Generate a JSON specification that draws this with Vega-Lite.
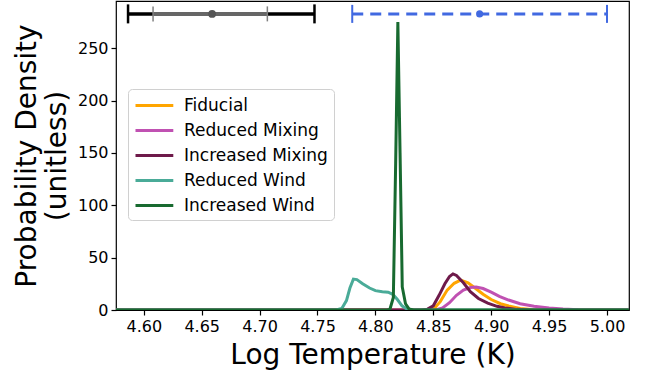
{
  "$schema": "https://vega.github.io/schema/vega-lite/v6.json",
  "width": 513,
  "height": 309,
  "autosize": "none",
  "padding": {"left": 116, "top": 1, "right": 22, "bottom": 66},
  "background": "white",
  "config": {
    "font": "DejaVu Sans",
    "view": {"stroke": "#000000", "strokeWidth": 1.2},
    "axis": {
      "grid": false,
      "domain": false,
      "labelFont": "DejaVu Sans",
      "labelFontSize": 16,
      "labelColor": "#000000",
      "tickColor": "#000000",
      "tickSize": 5,
      "tickWidth": 1.2,
      "titleFont": "DejaVu Sans",
      "titleFontSize": 28,
      "titleFontWeight": "normal",
      "titleColor": "#000000"
    },
    "legend": {
      "labelFont": "DejaVu Sans",
      "labelFontSize": 17,
      "labelColor": "#000000"
    }
  },
  "datasets": {
    "curves": [
      {"series": "Fiducial", "x": 4.576, "y": 0},
      {"series": "Fiducial", "x": 4.845, "y": 0},
      {"series": "Fiducial", "x": 4.850, "y": 0.5},
      {"series": "Fiducial", "x": 4.856, "y": 8},
      {"series": "Fiducial", "x": 4.862, "y": 19},
      {"series": "Fiducial", "x": 4.868, "y": 25.5},
      {"series": "Fiducial", "x": 4.8736, "y": 28.5},
      {"series": "Fiducial", "x": 4.880, "y": 26},
      {"series": "Fiducial", "x": 4.886, "y": 21},
      {"series": "Fiducial", "x": 4.893, "y": 15},
      {"series": "Fiducial", "x": 4.900, "y": 10},
      {"series": "Fiducial", "x": 4.908, "y": 6},
      {"series": "Fiducial", "x": 4.916, "y": 3.5},
      {"series": "Fiducial", "x": 4.925, "y": 1.5},
      {"series": "Fiducial", "x": 4.937, "y": 0.3},
      {"series": "Fiducial", "x": 4.950, "y": 0},
      {"series": "Fiducial", "x": 5.019, "y": 0},

      {"series": "Reduced Mixing", "x": 4.576, "y": 0},
      {"series": "Reduced Mixing", "x": 4.852, "y": 0},
      {"series": "Reduced Mixing", "x": 4.858, "y": 2},
      {"series": "Reduced Mixing", "x": 4.864, "y": 7},
      {"series": "Reduced Mixing", "x": 4.870, "y": 14},
      {"series": "Reduced Mixing", "x": 4.876, "y": 19},
      {"series": "Reduced Mixing", "x": 4.882, "y": 21.5},
      {"series": "Reduced Mixing", "x": 4.887, "y": 22},
      {"series": "Reduced Mixing", "x": 4.893, "y": 20.5},
      {"series": "Reduced Mixing", "x": 4.900, "y": 17},
      {"series": "Reduced Mixing", "x": 4.907, "y": 13},
      {"series": "Reduced Mixing", "x": 4.915, "y": 9.5},
      {"series": "Reduced Mixing", "x": 4.925, "y": 6},
      {"series": "Reduced Mixing", "x": 4.937, "y": 3.5},
      {"series": "Reduced Mixing", "x": 4.950, "y": 2},
      {"series": "Reduced Mixing", "x": 4.962, "y": 1},
      {"series": "Reduced Mixing", "x": 4.975, "y": 0.3},
      {"series": "Reduced Mixing", "x": 4.990, "y": 0},
      {"series": "Reduced Mixing", "x": 5.019, "y": 0},

      {"series": "Increased Mixing", "x": 4.576, "y": 0},
      {"series": "Increased Mixing", "x": 4.840, "y": 0},
      {"series": "Increased Mixing", "x": 4.845, "y": 0.8},
      {"series": "Increased Mixing", "x": 4.850, "y": 4},
      {"series": "Increased Mixing", "x": 4.855, "y": 14},
      {"series": "Increased Mixing", "x": 4.860, "y": 25},
      {"series": "Increased Mixing", "x": 4.864, "y": 32},
      {"series": "Increased Mixing", "x": 4.867, "y": 34.5},
      {"series": "Increased Mixing", "x": 4.870, "y": 33},
      {"series": "Increased Mixing", "x": 4.876, "y": 26},
      {"series": "Increased Mixing", "x": 4.882, "y": 17.5},
      {"series": "Increased Mixing", "x": 4.889, "y": 11},
      {"series": "Increased Mixing", "x": 4.897, "y": 6.5},
      {"series": "Increased Mixing", "x": 4.905, "y": 3.5},
      {"series": "Increased Mixing", "x": 4.912, "y": 2},
      {"series": "Increased Mixing", "x": 4.922, "y": 0.6},
      {"series": "Increased Mixing", "x": 4.935, "y": 0},
      {"series": "Increased Mixing", "x": 5.019, "y": 0},

      {"series": "Reduced Wind", "x": 4.576, "y": 0},
      {"series": "Reduced Wind", "x": 4.766, "y": 0},
      {"series": "Reduced Wind", "x": 4.771, "y": 1.5},
      {"series": "Reduced Wind", "x": 4.775, "y": 9},
      {"series": "Reduced Wind", "x": 4.778, "y": 21},
      {"series": "Reduced Wind", "x": 4.781, "y": 29.5},
      {"series": "Reduced Wind", "x": 4.784, "y": 29},
      {"series": "Reduced Wind", "x": 4.789, "y": 25},
      {"series": "Reduced Wind", "x": 4.795, "y": 21},
      {"series": "Reduced Wind", "x": 4.800, "y": 18.5},
      {"series": "Reduced Wind", "x": 4.806, "y": 17.5},
      {"series": "Reduced Wind", "x": 4.811, "y": 17},
      {"series": "Reduced Wind", "x": 4.815, "y": 15},
      {"series": "Reduced Wind", "x": 4.819, "y": 10},
      {"series": "Reduced Wind", "x": 4.823, "y": 4},
      {"series": "Reduced Wind", "x": 4.827, "y": 1},
      {"series": "Reduced Wind", "x": 4.832, "y": 0},
      {"series": "Reduced Wind", "x": 5.019, "y": 0},

      {"series": "Increased Wind", "x": 4.576, "y": 0},
      {"series": "Increased Wind", "x": 4.810, "y": 0},
      {"series": "Increased Wind", "x": 4.8125, "y": 0.5},
      {"series": "Increased Wind", "x": 4.8155, "y": 12},
      {"series": "Increased Wind", "x": 4.8175, "y": 140},
      {"series": "Increased Wind", "x": 4.8194, "y": 275},
      {"series": "Increased Wind", "x": 4.8213, "y": 150},
      {"series": "Increased Wind", "x": 4.8232, "y": 22},
      {"series": "Increased Wind", "x": 4.826, "y": 6},
      {"series": "Increased Wind", "x": 4.829, "y": 1},
      {"series": "Increased Wind", "x": 4.833, "y": 0},
      {"series": "Increased Wind", "x": 5.019, "y": 0}
    ],
    "outer": [{"lo": 4.5864, "hi": 4.7474, "mid": 4.659, "y": 282.7}],
    "inner": [{"lo": 4.608, "hi": 4.7067, "mid": 4.659, "y": 282.7}],
    "blue": [{"lo": 4.780, "hi": 5.000, "mid": 4.890, "y": 282.7}]
  },
  "layer": [
    {
      "data": {"name": "curves"},
      "mark": {"type": "line", "strokeWidth": 3, "clip": true},
      "encoding": {
        "x": {
          "field": "x", "type": "quantitative",
          "scale": {"domain": [4.576, 5.019], "nice": false, "zero": false},
          "axis": {"title": "Log Temperature (K)", "values": [4.6, 4.65, 4.7, 4.75, 4.8, 4.85, 4.9, 4.95, 5.0], "format": ".2f", "labelPadding": 3, "titlePadding": 7}
        },
        "y": {
          "field": "y", "type": "quantitative",
          "scale": {"domain": [0, 295], "nice": false},
          "axis": {"title": ["Probability Density", "(unitless)"], "values": [0, 50, 100, 150, 200, 250], "labelPadding": 3, "titlePadding": 6}
        },
        "color": {
          "field": "series", "type": "nominal",
          "scale": {
            "domain": ["Fiducial", "Reduced Mixing", "Increased Mixing", "Reduced Wind", "Increased Wind"],
            "range": ["#ffa500", "#c051b2", "#6e1a4a", "#4aab98", "#186a30"]
          },
          "legend": {
            "title": null,
            "orient": "none",
            "legendX": 12,
            "legendY": 88,
            "padding": 6,
            "fillColor": "rgba(255,255,255,0.85)",
            "strokeColor": "#d0d0d0",
            "cornerRadius": 4,
            "symbolType": "M-1,0H3.2",
            "symbolSize": 324,
            "symbolStrokeWidth": 3,
            "labelOffset": 29,
            "rowPadding": 6
          }
        },
        "order": {"field": "series", "type": "nominal"},
        "detail": {"field": "series"}
      }
    },
    {
      "data": {"name": "outer"},
      "mark": {"type": "rule", "color": "#000000", "strokeWidth": 3.5},
      "encoding": {"x": {"field": "lo", "type": "quantitative"}, "x2": {"field": "hi"}, "y": {"field": "y", "type": "quantitative"}}
    },
    {
      "data": {"name": "outer"},
      "transform": [{"fold": ["lo", "hi"], "as": ["end", "xv"]}],
      "mark": {"type": "tick", "orient": "vertical", "color": "#000000", "thickness": 2.5, "size": 19, "opacity": 1},
      "encoding": {"x": {"field": "xv", "type": "quantitative"}, "y": {"field": "y", "type": "quantitative"}}
    },
    {
      "data": {"name": "inner"},
      "mark": {"type": "rule", "color": "#666666", "strokeWidth": 4},
      "encoding": {"x": {"field": "lo", "type": "quantitative"}, "x2": {"field": "hi"}, "y": {"field": "y", "type": "quantitative"}}
    },
    {
      "data": {"name": "inner"},
      "transform": [{"fold": ["lo", "hi"], "as": ["end", "xv"]}],
      "mark": {"type": "tick", "orient": "vertical", "color": "#808080", "thickness": 1.5, "size": 15, "opacity": 1},
      "encoding": {"x": {"field": "xv", "type": "quantitative"}, "y": {"field": "y", "type": "quantitative"}}
    },
    {
      "data": {"name": "inner"},
      "mark": {"type": "point", "filled": true, "color": "#555555", "size": 60, "opacity": 1},
      "encoding": {"x": {"field": "mid", "type": "quantitative"}, "y": {"field": "y", "type": "quantitative"}}
    },
    {
      "data": {"name": "blue"},
      "mark": {"type": "rule", "color": "#4169e1", "strokeWidth": 3, "strokeDash": [11, 7]},
      "encoding": {"x": {"field": "lo", "type": "quantitative"}, "x2": {"field": "hi"}, "y": {"field": "y", "type": "quantitative"}}
    },
    {
      "data": {"name": "blue"},
      "transform": [{"fold": ["lo", "hi"], "as": ["end", "xv"]}],
      "mark": {"type": "tick", "orient": "vertical", "color": "#4169e1", "thickness": 2, "size": 18, "opacity": 1},
      "encoding": {"x": {"field": "xv", "type": "quantitative"}, "y": {"field": "y", "type": "quantitative"}}
    },
    {
      "data": {"name": "blue"},
      "mark": {"type": "point", "filled": true, "color": "#4169e1", "size": 50, "opacity": 1},
      "encoding": {"x": {"field": "mid", "type": "quantitative"}, "y": {"field": "y", "type": "quantitative"}}
    }
  ]
}
